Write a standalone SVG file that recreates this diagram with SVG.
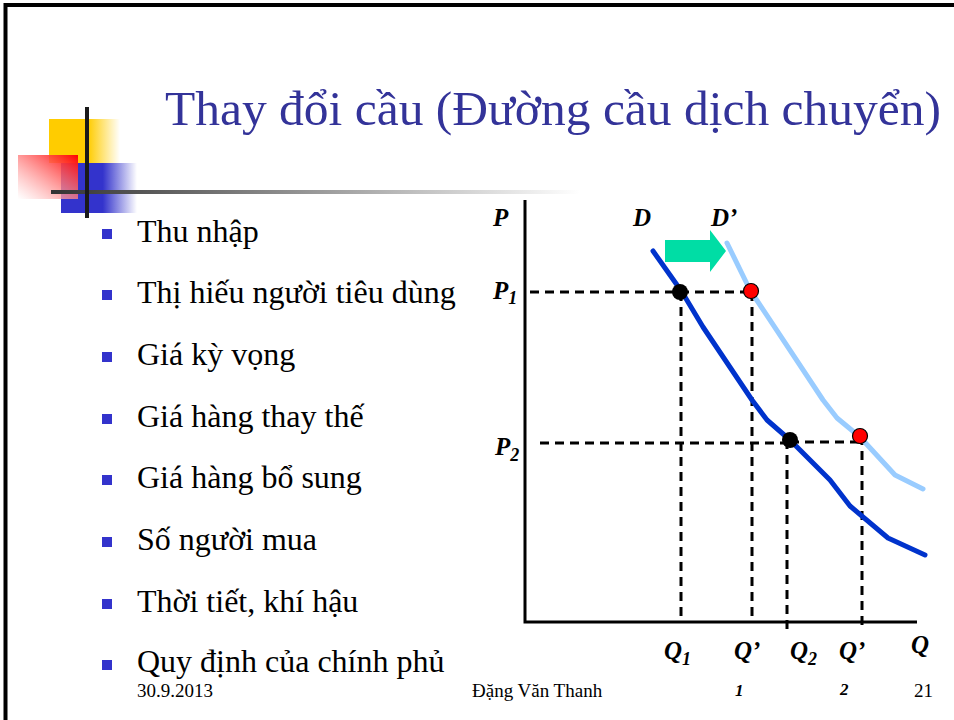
<svg xmlns="http://www.w3.org/2000/svg" width="954" height="720" viewBox="0 0 954 720">
<defs>
<linearGradient id="gy" x1="0" y1="0" x2="1" y2="0"><stop offset="0" stop-color="#ffcc00"/><stop offset="0.55" stop-color="#ffcc00"/><stop offset="1" stop-color="#ffcc00" stop-opacity="0"/></linearGradient>
<linearGradient id="gb" x1="0" y1="0" x2="1" y2="0"><stop offset="0" stop-color="#3333cc"/><stop offset="0.55" stop-color="#3333cc"/><stop offset="1" stop-color="#3333cc" stop-opacity="0"/></linearGradient>
<linearGradient id="gr" x1="1" y1="0" x2="0" y2="1"><stop offset="0" stop-color="#ff0000"/><stop offset="1" stop-color="#ffffff" stop-opacity="0.6"/></linearGradient>
<linearGradient id="gl" x1="0" y1="0" x2="1" y2="0"><stop offset="0" stop-color="#333333"/><stop offset="1" stop-color="#ffffff"/></linearGradient>
</defs>
<style>
text{font-family:"Liberation Serif","DejaVu Serif",serif}
.title{font-size:49.5px;fill:#333399}
.b{font-size:32px;fill:#000}
.lab{font-size:25px;font-weight:bold;font-style:italic;fill:#000}
.sub{font-size:18px}
.ft{font-size:19px;fill:#000}
.fti{font-size:17px;font-weight:bold;font-style:italic;fill:#000}
.dash{stroke:#000;stroke-width:3;stroke-dasharray:9 6;fill:none}
.bul{fill:#3333cc}
</style>
<rect width="954" height="720" fill="#fff"/>
<path d="M5.5,720 V5 H954" fill="none" stroke="#000" stroke-width="4"/>
<g id="decor">
<rect x="49" y="119" width="71" height="44" fill="url(#gy)"/>
<rect x="61" y="163" width="76" height="50" fill="url(#gb)"/>
<rect x="18" y="155" width="60" height="44" fill="url(#gr)"/>
<rect x="51" y="190" width="529" height="4" fill="url(#gl)"/>
<rect x="85" y="107" width="4" height="111" fill="#1a1a1a"/>
</g>
<text class="title" x="165" y="125">Thay đổi cầu (Đường cầu dịch chuyển)</text>
<g id="bullets">
<rect class="bul" x="102" y="229" width="10" height="10"/><text class="b" x="137" y="242">Thu nhập</text>
<rect class="bul" x="102" y="290" width="10" height="10"/><text class="b" x="137" y="303">Thị hiếu người tiêu dùng</text>
<rect class="bul" x="102" y="352" width="10" height="10"/><text class="b" x="137" y="365">Giá kỳ vọng</text>
<rect class="bul" x="102" y="414" width="10" height="10"/><text class="b" x="137" y="427">Giá hàng thay thế</text>
<rect class="bul" x="102" y="475" width="10" height="10"/><text class="b" x="137" y="488">Giá hàng bổ sung</text>
<rect class="bul" x="102" y="537" width="10" height="10"/><text class="b" x="137" y="550">Số người mua</text>
<rect class="bul" x="102" y="599" width="10" height="10"/><text class="b" x="137" y="612">Thời tiết, khí hậu</text>
<rect class="bul" x="102" y="660" width="10" height="10"/><text class="b" x="137" y="672">Quy định của chính phủ</text>
</g>
<g id="axes">
<path d="M525,200 V622 H917" fill="none" stroke="#000" stroke-width="3"/>
</g>
<g id="connectors">
<path class="dash" d="M530,292 H750"/>
<path class="dash" d="M681,292 V622"/>
<path class="dash" d="M752,292 V622"/>
<path class="dash" d="M540,443 H790 M790,442 H860"/>
<path class="dash" d="M787,440 V634"/>
<path class="dash" d="M862,436 V627"/>
</g>
<g id="curveD">
<path d="M653,251 L682,292 L703,327 L752,400 L767,420 L790,440 L830,480 L850,506 L888,538 L925,555" fill="none" stroke="#0033cc" stroke-width="5" stroke-linecap="round" stroke-linejoin="round"/>
</g>
<g id="curveD2">
<path d="M727,243 L750,290 L823,400 L837,418 L860,437 L895,475 L923,489" fill="none" stroke="#99ccff" stroke-width="5" stroke-linecap="round" stroke-linejoin="round"/>
</g>
<g id="shift-arrow">
<path d="M665,240 H710 V230 L726,251 L710,272 V262 H665 Z" fill="#00dda5"/>
</g>
<g id="points">
<circle cx="680" cy="292" r="8" fill="#000"/>
<circle cx="751" cy="291" r="7.5" fill="#ff0000" stroke="#000" stroke-width="1.2"/>
<circle cx="790" cy="440" r="8" fill="#000"/>
<circle cx="860" cy="436" r="7.5" fill="#ff0000" stroke="#000" stroke-width="1.2"/>
</g>
<g id="labels">
<text class="lab" x="493" y="226">P</text>
<text class="lab" x="633" y="226">D</text>
<text class="lab" x="711" y="226">D’</text>
<text class="lab" x="493" y="299">P<tspan class="sub" dy="5">1</tspan></text>
<text class="lab" x="495" y="455">P<tspan class="sub" dy="6">2</tspan></text>
<text class="lab" x="664" y="659">Q<tspan class="sub" dy="6">1</tspan></text>
<text class="lab" x="734" y="659">Q’</text>
<text class="lab" x="790" y="659">Q<tspan class="sub" dy="6">2</tspan></text>
<text class="lab" x="839" y="659">Q’</text>
<text class="lab" x="911" y="653">Q</text>
</g>
<g id="footer">
<text class="ft" x="137" y="697">30.9.2013</text>
<text class="ft" x="472" y="697">Đặng Văn Thanh</text>
<text class="fti" x="735" y="696">1</text>
<text class="fti" x="840" y="695">2</text>
<text class="ft" x="914" y="697">21</text>
</g>
</svg>
